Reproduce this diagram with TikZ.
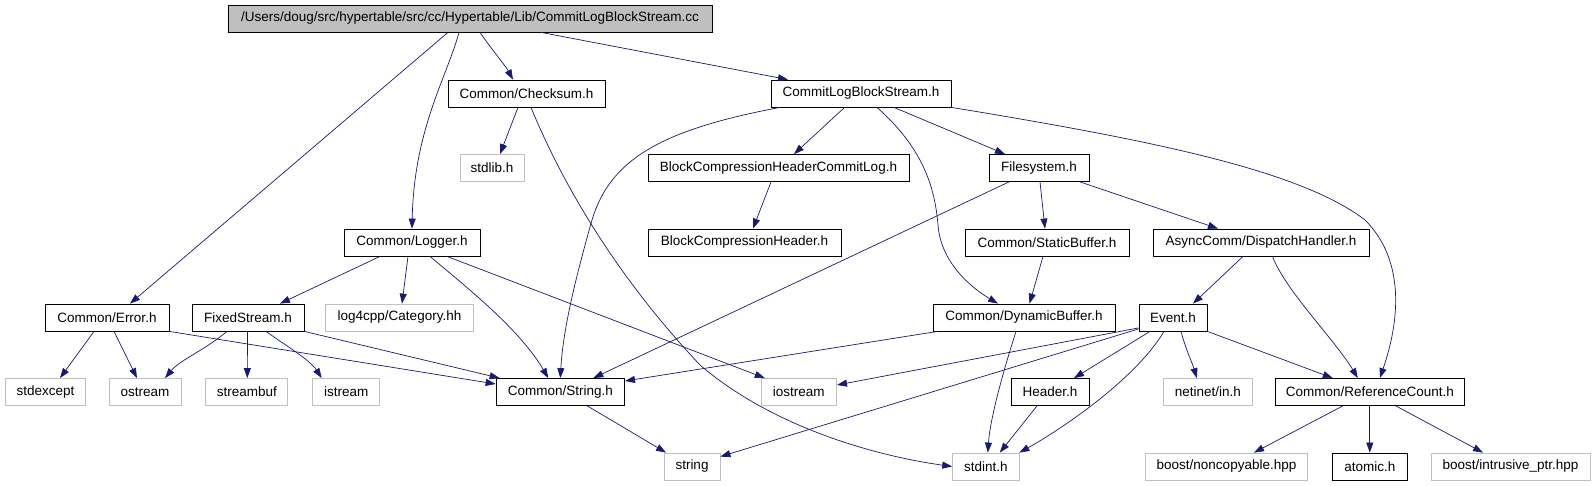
\documentclass[tikz,border=0pt]{standalone}
\usepackage{fontspec}
\setmainfont{Liberation Sans}
\usetikzlibrary{arrows.meta}
\definecolor{edgeblue}{HTML}{191970}
\definecolor{extgray}{HTML}{BFBFBF}
\begin{document}
\begin{tikzpicture}[x=1pt,y=-1pt,
  box/.style={draw=black, line width=0.8pt, minimum height=27pt, inner sep=0pt, font=\fontsize{13.5}{16}\selectfont, anchor=center},
  ext/.style={box, draw=extgray},
  rootbox/.style={box, fill=extgray},
  dep/.style={draw=edgeblue, line width=0.7pt, -{Triangle[length=10pt,width=7pt]}}
]
\useasboundingbox (0,0) rectangle (1596,485);
% row 1
\node[rootbox, minimum width=484pt] (root) at (470,18.5) {/Users/doug/src/hypertable/src/cc/Hypertable/Lib/CommitLogBlockStream.cc};
% row 2
\node[box, minimum width=157pt] (checksum) at (526.5,93.5) {Common/Checksum.h};
\node[box, minimum width=180pt] (clbs) at (861,93.5) {CommitLogBlockStream.h};
% row 3
\node[ext, minimum width=64pt] (stdlib) at (492,168) {stdlib.h};
\node[box, minimum width=261pt] (bchcl) at (778.5,168) {BlockCompressionHeaderCommitLog.h};
\node[box, minimum width=100pt] (filesystem) at (1039,168) {Filesystem.h};
% row 4
\node[box, minimum width=136pt] (logger) at (412,242.5) {Common/Logger.h};
\node[box, minimum width=193pt] (bch) at (744.5,242.5) {BlockCompressionHeader.h};
\node[box, minimum width=164pt] (staticbuf) at (1047,242.5) {Common/StaticBuffer.h};
\node[box, minimum width=216pt] (dispatch) at (1261,242.5) {AsyncComm/DispatchHandler.h};
% row 5
\node[box, minimum width=124pt] (error) at (107,317.5) {Common/Error.h};
\node[box, minimum width=112pt] (fixedstream) at (248,317.5) {FixedStream.h};
\node[ext, minimum width=148pt] (category) at (399.5,317.5) {log4cpp/Category.hh};
\node[box, minimum width=182pt] (dynbuf) at (1024,317.5) {Common/DynamicBuffer.h};
\node[box, minimum width=68pt] (event) at (1173,317.5) {Event.h};
% row 6
\node[ext, minimum width=80pt] (stdexcept) at (45.6,392) {stdexcept};
\node[ext, minimum width=72pt] (ostream) at (145,392) {ostream};
\node[ext, minimum width=82pt] (streambuf) at (246.8,392) {streambuf};
\node[ext, minimum width=67pt] (istream) at (346.3,392) {istream};
\node[box, minimum width=128.5pt] (stringh) at (560.3,392) {Common/String.h};
\node[ext, minimum width=75.6pt] (iostream) at (798.8,392) {iostream};
\node[box, minimum width=78pt] (header) at (1050,392) {Header.h};
\node[ext, minimum width=89.6pt] (netinet) at (1207.8,392) {netinet/in.h};
\node[box, minimum width=189.6pt] (refcount) at (1369.8,392) {Common/ReferenceCount.h};
% row 7
\node[ext, minimum width=56pt] (string) at (692,466.5) {string};
\node[ext, minimum width=66.4pt] (stdint) at (985.8,466.5) {stdint.h};
\node[ext, minimum width=161.7pt] (noncopyable) at (1226.5,466.5) {boost/noncopyable.hpp};
\node[box, minimum width=74.4pt] (atomic) at (1369.8,466.5) {atomic.h};
\node[ext, minimum width=159pt] (intrusive) at (1510.5,466.5) {boost/intrusive\_ptr.hpp};

% edges from root
\draw[dep] ([xshift=-22pt]root.south) -- ([xshift=23pt]error.north);
\draw[dep] ([xshift=-11pt]root.south) .. controls (447,77) and (414,129) .. (logger.north);
\draw[dep] ([xshift=10pt]root.south) .. controls (492,50) and (505,65) .. ([xshift=-13.5pt]checksum.north);
\draw[dep] ([xshift=71pt]root.south) -- ([xshift=-73pt]clbs.north);
% checksum
\draw[dep] ([xshift=-8.5pt]checksum.south) -- ([xshift=8pt]stdlib.north);
\draw[dep] ([xshift=4.5pt]checksum.south) .. controls (565,190) and (620,280) .. (700,365) .. controls (770,425) and (870,455) .. (stdint.west);
% clbs
\draw[dep] ([xshift=-81pt]clbs.south) .. controls (660,130) and (610,160) .. (592,220) .. controls (575,280) and (563,330) .. (stringh.north);
\draw[dep] ([xshift=-16.4pt]clbs.south) -- ([xshift=15.5pt]bchcl.north);
\draw[dep] ([xshift=16pt]clbs.south) .. controls (925,150) and (935,190) .. (938,225) .. controls (941,265) and (975,290) .. ([xshift=-26pt]dynbuf.north);
\draw[dep] ([xshift=33pt]clbs.south) -- ([xshift=-34pt]filesystem.north);
\draw[dep] (clbs.south east) .. controls (1150,140) and (1300,170) .. (1365,220) .. controls (1405,260) and (1400,320) .. ([xshift=10pt]refcount.north);
% bchcl
\draw[dep] ([xshift=-7.5pt]bchcl.south) -- ([xshift=8.5pt]bch.north);
% filesystem
\draw[dep] ([xshift=-30pt]filesystem.south) -- ([xshift=33pt]stringh.north);
\draw[dep] ([xshift=1pt]filesystem.south) -- ([xshift=-2pt]staticbuf.north);
\draw[dep] ([xshift=41pt]filesystem.south) -- ([xshift=-43pt]dispatch.north);
% staticbuf
\draw[dep] ([xshift=-4pt]staticbuf.south) -- ([xshift=5.5pt]dynbuf.north);
% dispatch
\draw[dep] ([xshift=-18pt]dispatch.south) -- ([xshift=20pt]event.north);
\draw[dep] ([xshift=11.5pt]dispatch.south) .. controls (1285,290) and (1335,340) .. ([xshift=-12pt]refcount.north);
% logger
\draw[dep] ([xshift=-32pt]logger.south) -- ([xshift=32pt]fixedstream.north);
\draw[dep] ([xshift=-4pt]logger.south) -- ([xshift=2.5pt]category.north);
\draw[dep] ([xshift=18pt]logger.south) .. controls (470,290) and (520,330) .. ([xshift=-12pt]stringh.north);
\draw[dep] ([xshift=35pt]logger.south) -- ([xshift=-34pt]iostream.north);
% error
\draw[dep] ([xshift=-13pt]error.south) -- ([xshift=14.4pt]stdexcept.north);
\draw[dep] ([xshift=7pt]error.south) -- ([xshift=-8pt]ostream.north);
\draw[dep] (error.south east) -- ([yshift=8pt]stringh.west);
% fixedstream
\draw[dep] ([xshift=-21pt]fixedstream.south) .. controls (205,350) and (180,360) .. ([xshift=20pt]ostream.north);
\draw[dep] ([xshift=-0.5pt]fixedstream.south) -- ([xshift=0.5pt]streambuf.north);
\draw[dep] ([xshift=18pt]fixedstream.south) .. controls (285,345) and (310,360) .. ([xshift=-24.6pt]istream.north);
\draw[dep] (fixedstream.south east) -- ([xshift=4pt]stringh.north west);
% dynbuf
\draw[dep] ([xshift=5pt]dynbuf.south west) -- ([yshift=11pt]stringh.east);
\draw[dep] ([xshift=-8pt]dynbuf.south) .. controls (1002,375) and (990,420) .. ([xshift=2pt]stdint.north);
% event
\draw[dep] ([yshift=3.5pt]event.south west) -- ([yshift=7pt]iostream.east);
\draw[dep] ([yshift=2.5pt]event.south west) -- ([yshift=-4pt]string.north east);
\draw[dep] ([xshift=-23pt]event.south) -- ([xshift=24pt]header.north);
\draw[dep] ([xshift=-9pt]event.south) .. controls (1135,380) and (1060,430) .. (stdint.north east);
\draw[dep] ([xshift=8pt]event.south) .. controls (1186,350) and (1193,365) .. ([xshift=-11pt]netinet.north);
\draw[dep] (event.south east) -- ([xshift=-37pt]refcount.north);
% header
\draw[dep] ([xshift=-13pt]header.south) -- ([xshift=14pt]stdint.north);
% string.h
\draw[dep] ([xshift=27pt]stringh.south) -- ([xshift=-26pt]string.north);
% refcount
\draw[dep] ([xshift=-27pt]refcount.south) -- ([xshift=27.5pt]noncopyable.north);
\draw[dep] (refcount.south) -- (atomic.north);
\draw[dep] ([xshift=26pt]refcount.south) -- ([xshift=-27.5pt]intrusive.north);
\end{tikzpicture}
\end{document}
